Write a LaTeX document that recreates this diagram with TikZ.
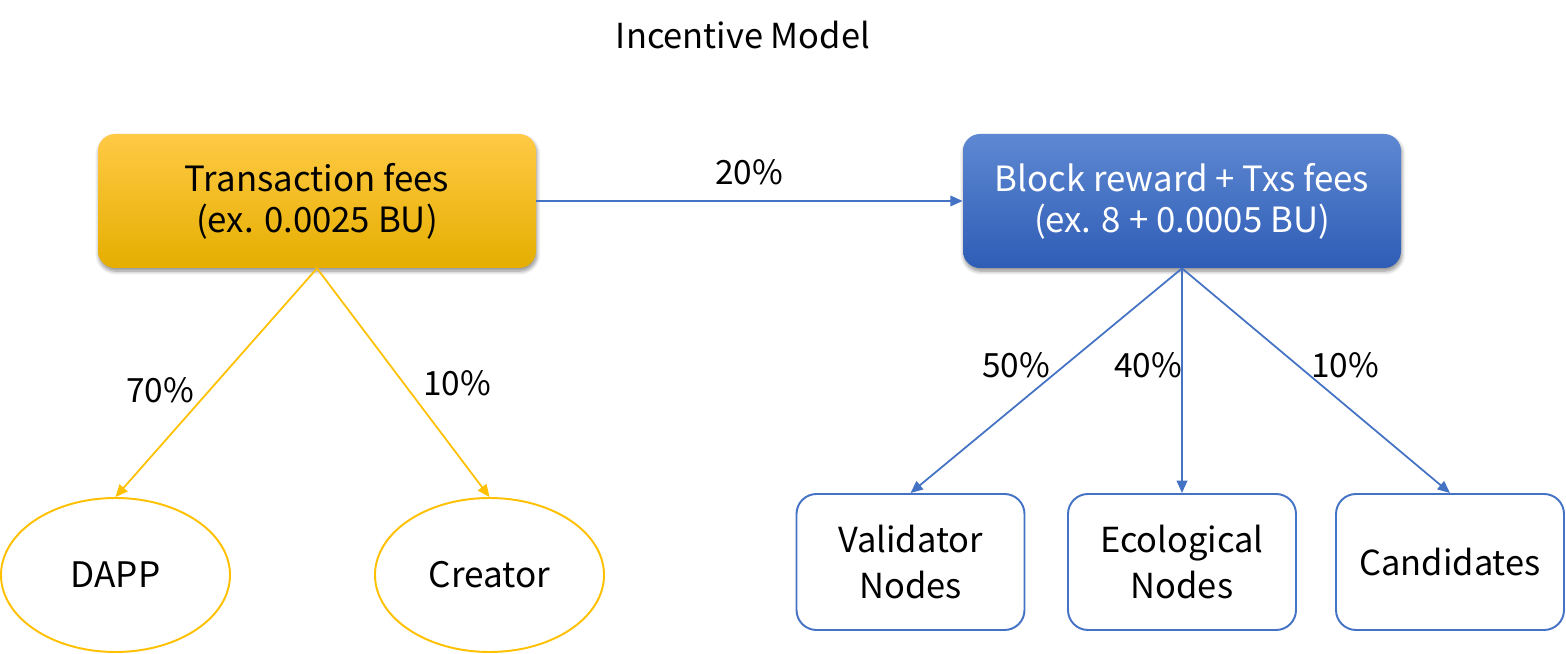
\documentclass[tikz,border=0pt]{standalone}
\usepackage{fontspec}
\setmainfont{Noto Sans CJK SC}
\usepackage{tikz}
\usetikzlibrary{arrows.meta,shapes.geometric,shadows.blur}

\definecolor{gold}{HTML}{FFC000}
\definecolor{goldtop}{HTML}{FFCA45}
\definecolor{golddark}{HTML}{E5AE00}
\definecolor{blueline}{HTML}{4472C4}
\definecolor{bluetop}{HTML}{5E88D2}
\definecolor{bluemid}{HTML}{3F6DC6}
\definecolor{bluedark}{HTML}{2F5DB6}

\begin{document}
\begin{tikzpicture}[
    >={Triangle[length=7pt,width=6pt]}, line join=round,
    topbox/.style={rectangle, rounded corners=0.34cm, minimum width=8.76cm,
      minimum height=2.68cm, align=center, inner sep=0pt,
      font=\fontsize{19.8}{23.5}\selectfont,
      blur shadow={shadow xshift=0.5pt, shadow yshift=-1.8pt,
        shadow blur steps=8, shadow opacity=45}},
    feebox/.style={topbox, top color=goldtop, middle color=gold, bottom color=golddark},
    rewardbox/.style={topbox, text=white, top color=bluetop, middle color=bluemid,
      bottom color=bluedark},
    share/.style={ellipse, draw=gold, line width=1.1pt, minimum width=4.58cm,
      minimum height=3.08cm, inner sep=0pt, font=\fontsize{20}{24}\selectfont},
    sink/.style={rectangle, draw=blueline, line width=1.1pt, rounded corners=0.4cm,
      minimum width=4.56cm, minimum height=2.72cm, align=center, inner sep=0pt,
      font=\fontsize{19.6}{26}\selectfont},
    goldarr/.style={->, draw=gold, fill=gold, line width=1pt},
    bluearr/.style={->, draw=blueline, fill=blueline, line width=1pt},
    pct/.style={font=\fontsize{19}{23}\selectfont},
  ]
  \useasboundingbox (0,0) rectangle (31.32,13.08);

  % --- title ---
  \node[font=\fontsize{19.6}{23}\selectfont] (title) at (14.86,12.38) {Incentive Model};

  % --- fee sources ---
  \node[feebox] (fees) at (6.34,9.06) {Transaction fees\\(ex. 0.0025 BU)};
  \node[rewardbox] (reward) at (23.64,9.06) {Block reward + Txs fees\\(ex. 8 + 0.0005 BU)};

  % --- receivers ---
  \node[share] (dapp) at (2.31,1.58) {DAPP};
  \node[share] (creator) at (9.79,1.58) {Creator};
  \node[sink] (validator) at (18.21,1.84) {Validator\\Nodes};
  \node[sink] (eco) at (23.64,1.84) {Ecological\\Nodes};
  \node[sink] (cand) at (29.0,1.84) {Candidates};

  % --- flows ---
  \draw[bluearr] (fees.east) -- (reward.west);
  \draw[goldarr] (fees.south) -- (dapp.north);
  \draw[goldarr] (fees.south) -- (creator.north);
  \draw[bluearr] (reward.south) -- (validator.north);
  \draw[bluearr] (reward.south) -- (eco.north);
  \draw[bluearr] (reward.south) -- (cand.north);

  % --- percentages ---
  \node[pct] (p20) at (14.98,9.64) {20\%};
  \node[pct] (p70) at (3.2,5.28) {70\%};
  \node[pct] (p10a) at (9.14,5.42) {10\%};
  \node[pct] (p50) at (20.32,5.78) {50\%};
  \node[pct] (p40) at (22.96,5.78) {40\%};
  \node[pct] (p10b) at (26.9,5.78) {10\%};
\end{tikzpicture}
\end{document}
